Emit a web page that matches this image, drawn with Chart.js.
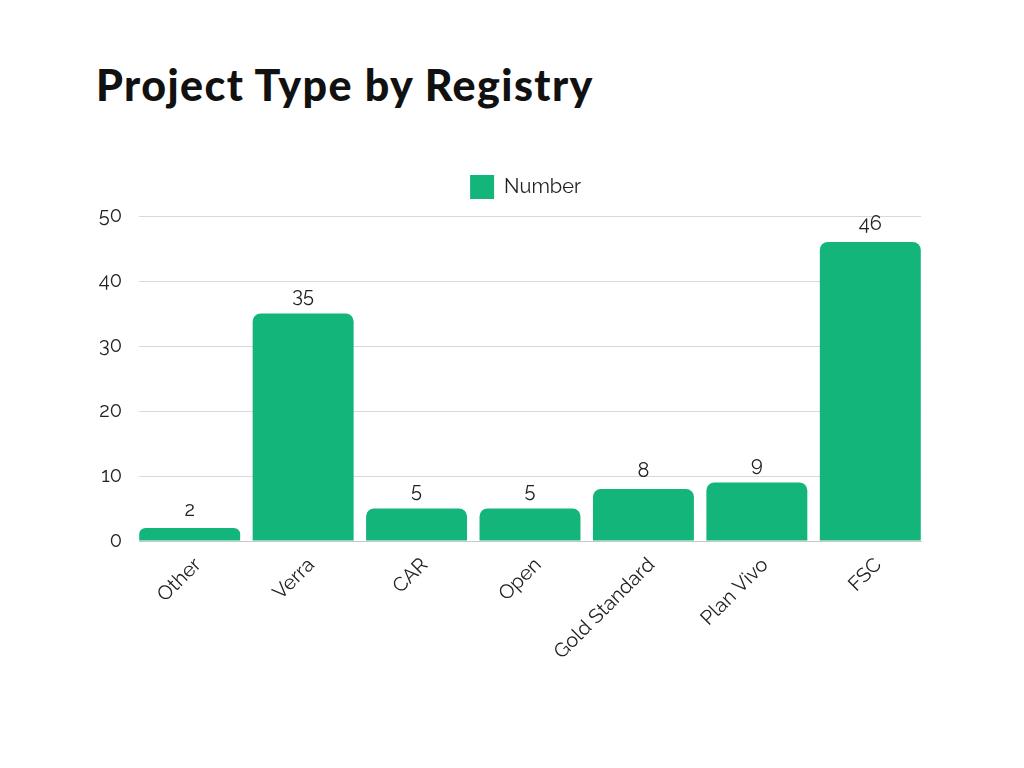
<!DOCTYPE html>
<html>
<head>
<meta charset="utf-8">
<script src="https://cdn.jsdelivr.net/npm/chart.js@4"></script>
<style>
  html, body { margin: 0; padding: 0; background: #ffffff; }
  #wrap { position: relative; width: 1024px; height: 768px; }
  h1 { position: absolute; left: 96px; top: 59px; margin: 0; font-family: Lato, "Open Sans", sans-serif; font-weight: 900; font-size: 43px; color: #111111; letter-spacing: 1.4px; white-space: nowrap; }
  canvas { position: absolute; left: 0; top: 0; }
</style>
</head>
<body>
<div id="wrap">
  <h1>Project Type by Registry</h1>
  <canvas id="c" width="1024" height="768"></canvas>
</div>
<script>
const categories = ["Other", "Verra", "CAR", "Open", "Gold Standard", "Plan Vivo", "FSC"];
const seriesName = "Number";
const values = [2, 35, 5, 5, 8, 9, 46];
const yTicks = [0, 10, 20, 30, 40, 50];

const FONT = "Raleway, Lato, 'Open Sans', sans-serif";
const GREEN = "#13b57a";
const TEXT = "#222222";
const EDGE = 0.447; // bars sit flush with the plot edges

const valueLabels = {
  id: 'valueLabels',
  afterDatasetsDraw(chart) {
    const ctx = chart.ctx;
    const meta = chart.getDatasetMeta(0);
    ctx.save();
    ctx.font = "20px " + FONT;
    ctx.fillStyle = TEXT;
    ctx.textAlign = 'center';
    ctx.textBaseline = 'bottom';
    meta.data.forEach((bar, i) => {
      ctx.fillText(String(values[i]), bar.x, bar.y - 8);
    });
    ctx.restore();
  }
};

// centre the legend over the plot area rather than the whole layout box
const legendShift = {
  id: 'legendShift',
  afterLayout(chart) {
    const lg = chart.legend;
    if (!lg) return;
    const dx = 20, dy = -7;
    lg.left += dx; lg.right += dx;
    lg.top += dy; lg.bottom += dy;
    if (lg.legendHitBoxes) lg.legendHitBoxes.forEach(b => { b.left += dx; b.top += dy; });
  }
};

new Chart(document.getElementById('c'), {
  type: 'bar',
  data: {
    datasets: [{
      label: seriesName,
      data: values.map((v, i) => ({ x: i, y: v })),
      backgroundColor: GREEN,
      borderWidth: 0,
      borderRadius: { topLeft: 8, topRight: 8, bottomLeft: 0, bottomRight: 0 },
      borderSkipped: 'start',
      categoryPercentage: 0.89,
      barPercentage: 1.0
    }]
  },
  options: {
    responsive: false,
    animation: false,
    devicePixelRatio: 1,
    layout: { padding: { left: 90, right: 103, top: 172, bottom: 0 } },
    plugins: {
      title: { display: false },
      tooltip: { enabled: false },
      legend: {
        display: true,
        position: 'top',
        labels: {
          boxWidth: 24,
          boxHeight: 24,
          padding: 10,
          color: TEXT,
          font: { family: FONT, size: 20 }
        }
      }
    },
    scales: {
      x: {
        type: 'linear',
        offset: false,
        min: -EDGE,
        max: categories.length - 1 + EDGE,
        afterBuildTicks(scale) { scale.ticks = categories.map((c, i) => ({ value: i })); },
        grid: { display: false, drawTicks: false, offset: false },
        border: { display: true, color: '#c8c8c8', width: 1 },
        ticks: {
          color: TEXT,
          font: { family: FONT, size: 20 },
          minRotation: 45,
          maxRotation: 45,
          padding: 12,
          labelOffset: 8,
          autoSkip: false,
          callback: (v) => categories[v]
        },
        afterFit(scale) { scale.height = 227; }
      },
      y: {
        min: 0,
        max: 50,
        afterBuildTicks(scale) { scale.ticks = yTicks.map(v => ({ value: v })); },
        grid: { color: '#d9d9d9', lineWidth: 1, drawTicks: false },
        border: { display: false },
        ticks: {
          color: TEXT,
          font: { family: FONT, size: 20 },
          padding: 17
        },
        afterFit(scale) { scale.width = 49; }
      }
    }
  },
  plugins: [valueLabels, legendShift]
});
</script>
</body>
</html>
